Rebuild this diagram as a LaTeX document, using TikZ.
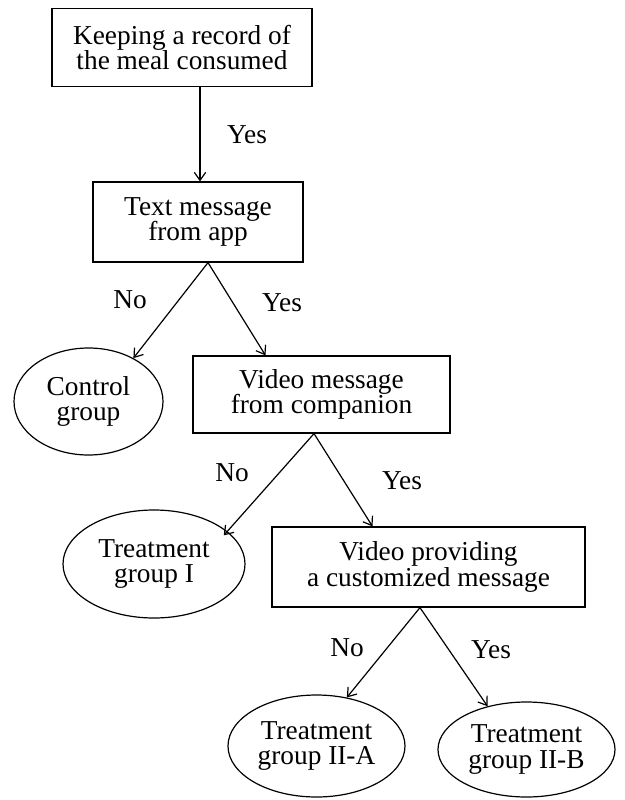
\documentclass[tikz,border=0pt]{standalone}
\usepackage{fontspec}
\setmainfont{Liberation Serif}
\usetikzlibrary{shapes.geometric, arrows.meta}

\tikzset{
  stepbox/.style={draw, line width=0.9pt, align=center, inner sep=0pt,
    font=\fontsize{20.5}{19}\selectfont},
  groupoval/.style={ellipse, draw, line width=0.9pt, align=center, inner sep=0pt,
    font=\fontsize{20.5}{19}\selectfont},
  answer/.style={font=\fontsize{20.5}{19}\selectfont},
  flow/.style={-{Straight Barb[length=6pt, width=8.5pt, line width=0.9pt]}, line width=0.9pt}
}

\begin{document}
\begin{tikzpicture}[x=0.75pt, y=-0.75pt]
    \useasboundingbox (0,0) rectangle (625,800);

    % Entscheidungen
    \node[stepbox, minimum width=195pt, minimum height=59pt] (record) at (182,47.5) {Keeping a record of\\the meal consumed};
    \node[stepbox, minimum width=157.5pt, minimum height=60pt] (text) at (198,222) {Text message\\from app};
    \node[stepbox, minimum width=192.75pt, minimum height=57.75pt] (video) at (321.5,394.5) {Video message\\from companion};
    \node[stepbox, minimum width=234.75pt, minimum height=60pt] (custom) at (428.5,567) {Video providing\\a customized message};

    % Gruppen
    \node[groupoval, minimum width=111.75pt, minimum height=80.25pt] (control) at (88.5,401.5) {Control\\group};
    \node[groupoval, minimum width=136.5pt, minimum height=81pt] (trtI) at (154,564) {Treatment\\group I};
    \node[groupoval, minimum width=132.75pt, minimum height=76.5pt] (trtIIA) at (316.5,746) {Treatment\\group II-A};
    \node[groupoval, minimum width=132.75pt, minimum height=71.25pt] (trtIIB) at (526.5,749.5) {Treatment\\group II-B};

    % Pfeile
    \draw[flow] ([xshift=13.5pt]record.south) -- ([xshift=1.5pt]text.north);
    \draw[flow] ([xshift=7.5pt]text.south) -- (control.44);
    \draw[flow] ([xshift=7.5pt]text.south) -- ([xshift=-42pt]video.north);
    \draw[flow] ([xshift=-5.6pt]video.south) -- ([shift={(3pt,-7pt)}]trtI.30);
    \draw[flow] ([xshift=-5.6pt]video.south) -- ([xshift=-42pt]custom.north);
    \draw[flow] ([xshift=-6.4pt]custom.south) -- (trtIIA.58);
    \draw[flow] ([xshift=-6.4pt]custom.south) -- (trtIIB.132);

    % Beschriftungen
    \node[answer] (y1) at (247,135) {Yes};
    \node[answer] (n2) at (130,300) {No};
    \node[answer] (y2) at (282,303) {Yes};
    \node[answer] (n3) at (232,473) {No};
    \node[answer] (y3) at (402,481) {Yes};
    \node[answer] (n4) at (347,648) {No};
    \node[answer] (y4) at (491,650) {Yes};
\end{tikzpicture}
\end{document}
